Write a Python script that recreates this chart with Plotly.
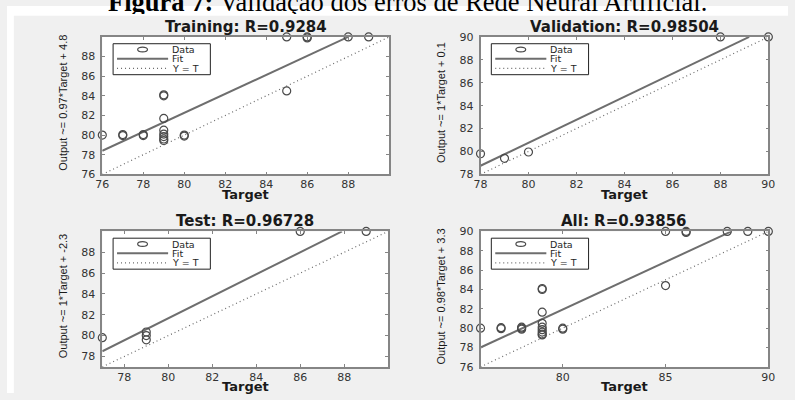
import plotly.graph_objects as go

W, H = 795, 400

# ---------------- data ----------------
train_target = [76, 77, 77, 78, 78, 79, 79, 79, 79, 79, 79, 79, 79, 80, 80, 85, 85, 86, 86, 88, 89]
train_output = [80.0, 79.95, 80.05, 79.95, 80.05, 84.0, 84.1, 81.7, 80.5, 80.1, 79.85, 79.6, 79.45,
                79.9, 80.0, 90.0, 84.5, 90.0, 89.9, 90.0, 90.0]
train_fit_x = [76, 88.0]
train_fit_y = [78.4, 90.0]

val_target = [78, 79, 80, 88, 90]
val_output = [79.8, 79.4, 79.95, 90.0, 90.0]
val_fit_x = [78, 89.2]
val_fit_y = [78.75, 90.0]

test_target = [77, 79, 79, 79, 86, 89]
test_output = [79.8, 80.35, 80.0, 79.6, 90.0, 90.0]
test_fit_x = [77, 87.9]
test_fit_y = [78.5, 90.0]

all_target = [76, 77, 77, 78, 78, 78, 79, 79, 79, 79, 79, 79, 79, 79, 79, 80, 80, 85, 85, 86, 86, 88, 89, 90]
all_output = [80.0, 79.95, 80.05, 79.9, 80.0, 80.1, 84.0, 84.1, 81.65, 80.5, 80.1, 79.85, 79.6, 79.4, 79.3,
              79.9, 80.0, 90.0, 84.4, 90.0, 89.9, 90.0, 90.0, 90.0]
all_fit_x = [76, 88.2]
all_fit_y = [78.0, 90.0]

titles = ["Training: R=0.9284", "Validation: R=0.98504", "Test: R=0.96728", "All: R=0.93856"]
ylabels = ["Output ~= 0.97*Target + 4.8", "Output ~= 1*Target + 0.1",
           "Output ~= 1*Target + -2.3", "Output ~= 0.98*Target + 3.3"]
xranges = [[76, 90], [78, 90], [77, 90], [76, 90]]
yranges = [[76, 90], [78, 90], [77, 90], [76, 90]]
xticks = [[76, 78, 80, 82, 84, 86, 88], [78, 80, 82, 84, 86, 88, 90],
          [78, 80, 82, 84, 86, 88], [80, 85, 90]]
yticks = [[76, 78, 80, 82, 84, 86, 88], [78, 80, 82, 84, 86, 88, 90],
          [78, 80, 82, 84, 86, 88], [76, 78, 80, 82, 84, 86, 88, 90]]
legend_labels = ["Data", "Fit", "Y = T"]
fig_caption_bold = "Figura 7:"
fig_caption_rest = " Validação dos erros de Rede Neural Artificial."

targets = [train_target, val_target, test_target, all_target]
outputs = [train_output, val_output, test_output, all_output]
fits_x = [train_fit_x, val_fit_x, test_fit_x, all_fit_x]
fits_y = [train_fit_y, val_fit_y, test_fit_y, all_fit_y]

# ---------------- layout geometry (pixels) ----------------
boxes = [(97, 32, 389, 174), (482, 32, 775, 174), (97, 233, 388, 373), (482, 233, 775, 373)]

DATA_COL = "#4a4a4a"
FIT_COL = "#6e6e6e"
DIAG_COL = "#6a6a6a"
AX_COL = "#858585"
TXT_COL = "#333333"
SANS = "DejaVu Sans, Arial, sans-serif"
DOTS = "1px,3px"

fig = go.Figure()
shapes = []
annotations = []
layout_axes = {}

for i in range(4):
    n = i + 1
    sx = "" if n == 1 else str(n)
    l, t, r, b = boxes[i]
    xr, yr = xranges[i], yranges[i]

    fig.add_trace(go.Scatter(x=xr, y=xr, mode="lines", xaxis="x" + sx, yaxis="y" + sx,
                             line=dict(color=DIAG_COL, width=1.2, dash=DOTS), showlegend=False,
                             name=legend_labels[2]))
    fig.add_trace(go.Scatter(x=fits_x[i], y=fits_y[i], mode="lines", xaxis="x" + sx, yaxis="y" + sx,
                             line=dict(color=FIT_COL, width=2), showlegend=False, name=legend_labels[1]))
    fig.add_trace(go.Scatter(x=targets[i], y=outputs[i], mode="markers", xaxis="x" + sx, yaxis="y" + sx,
                             marker=dict(symbol="circle-open", size=8, color=DATA_COL,
                                         line=dict(width=1.2, color=DATA_COL)),
                             cliponaxis=False, showlegend=False, name=legend_labels[0]))

    axcommon = dict(showline=True, linecolor=AX_COL, linewidth=1.5, mirror="ticks",
                    ticks="inside", ticklen=3, tickwidth=1, tickcolor=AX_COL,
                    showgrid=False, zeroline=False,
                    tickfont=dict(family=SANS, size=11, color=TXT_COL))
    layout_axes["xaxis" + sx] = dict(axcommon, domain=[l / W, r / W], range=xr, tickvals=xticks[i],
                                     anchor="y" + sx, ticklabelstandoff=-1)
    layout_axes["yaxis" + sx] = dict(axcommon, domain=[1 - b / H, 1 - t / H], range=yr, tickvals=yticks[i],
                                     anchor="x" + sx, ticklabelstandoff=3)

    xd = "x" + sx + " domain"
    yd = "y" + sx + " domain"

    def fx(px, l=l, r=r):
        return (px - l) / (r - l)

    def fy(py, t=t, b=b):
        return 1 - (py - t) / (b - t)

    # title
    annotations.append(dict(text="<b>" + titles[i] + "</b>", xref=xd, yref=yd, x=0.5, y=1,
                            xanchor="center", yanchor="bottom", showarrow=False, borderpad=0, yshift=0,
                            font=dict(family=SANS, size=15, color="#1a1a1a")))
    # x label
    annotations.append(dict(text="<b>Target</b>", xref=xd, yref=yd, x=0.5, y=fy(b + 21 if n <= 2 else b + 20.5),
                            xanchor="center", yanchor="middle", showarrow=False, borderpad=0,
                            font=dict(family=SANS, size=13, color="#1a1a1a")))
    # y label
    annotations.append(dict(text=ylabels[i], xref=xd, yref=yd, x=fx(l - 40), y=fy((t + b) / 2 - 3),
                            xanchor="center", yanchor="middle", textangle=-90, showarrow=False,
                            font=dict(family="Liberation Sans, Arial, sans-serif", size=11, color="#1a1a1a")))

    # legend (drawn manually, MATLAB style)
    shapes.append(dict(type="rect", xref=xd, yref=yd, x0=fx(l + 11), x1=fx(l + 110),
                       y0=fy(t + 7), y1=fy(t + 39), fillcolor="white",
                       line=dict(color="#222222", width=1), layer="above"))
    shapes.append(dict(type="circle", xref=xd, yref=yd, x0=fx(l + 36), x1=fx(l + 46),
                       y0=fy(t + 15.5), y1=fy(t + 10.5), line=dict(color=DATA_COL, width=1.2), layer="above"))
    shapes.append(dict(type="line", xref=xd, yref=yd, x0=fx(l + 15), x1=fx(l + 67),
                       y0=fy(t + 22.5), y1=fy(t + 22.5), line=dict(color=FIT_COL, width=2), layer="above"))
    shapes.append(dict(type="line", xref=xd, yref=yd, x0=fx(l + 15), x1=fx(l + 67),
                       y0=fy(t + 32.5), y1=fy(t + 32.5), line=dict(color=DIAG_COL, width=1.2, dash=DOTS),
                       layer="above"))
    for lab, yy in zip(legend_labels, [13, 22.5, 32.5]):
        annotations.append(dict(text=lab, xref=xd, yref=yd, x=fx(l + 70), y=fy(t + yy),
                                xanchor="left", yanchor="middle", showarrow=False, borderpad=0,
                                font=dict(family=SANS, size=9.5, color="#262626")))

# white page strips outside the grey MATLAB figure area
shapes.append(dict(type="rect", xref="paper", yref="paper", x0=0, x1=1, y0=1 - 10 / H, y1=1,
                   fillcolor="white", line=dict(width=0), layer="below"))
shapes.append(dict(type="rect", xref="paper", yref="paper", x0=0, x1=7 / W, y0=0, y1=1,
                   fillcolor="white", line=dict(width=0), layer="below"))

# document caption (partly cut off at top of the image)
annotations.append(dict(text="<b>" + fig_caption_bold + "</b>" + fig_caption_rest,
                        xref="paper", yref="paper", x=408 / W, y=1 - 9 / H,
                        xanchor="center", yanchor="bottom", height=24, valign="middle",
                        borderpad=0, showarrow=False,
                        font=dict(family="Liberation Serif, Times New Roman, serif", size=26.5, color="black")))

fig.update_layout(width=W, height=H, margin=dict(l=0, r=0, t=0, b=0),
                  paper_bgcolor="#f0f0f0", plot_bgcolor="white", showlegend=False,
                  shapes=shapes, annotations=annotations, **layout_axes)

fig.write_html("out.html", config={"displayModeBar": False},
               post_script="document.body.style.margin='0px';document.body.style.overflow='hidden';")
